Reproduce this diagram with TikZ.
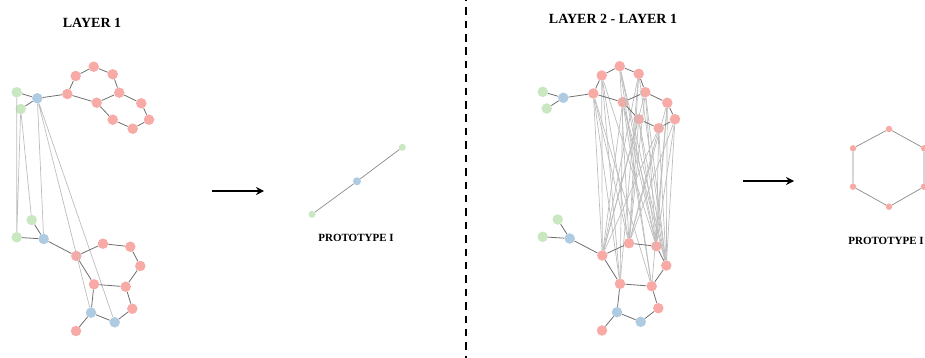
\documentclass[tikz,border=0pt]{standalone}
\usepackage{fontspec}
\setmainfont{Liberation Serif}
\usetikzlibrary{arrows.meta}
\definecolor{pinkn}{HTML}{F8ABA6}
\definecolor{greenn}{HTML}{C9E7C1}
\definecolor{bluen}{HTML}{AFCBE2}
\definecolor{darkedge}{HTML}{6E6E6E}
\definecolor{lightedge}{HTML}{BDBDBD}
\tikzset{
  vtx/.style={circle,inner sep=0pt,minimum size=10.5pt,draw=none},
  pk/.style={vtx,fill=pinkn},
  gr/.style={vtx,fill=greenn},
  bl/.style={vtx,fill=bluen},
  spk/.style={pk,minimum size=6.5pt},
  sgr/.style={gr,minimum size=7pt},
  sbl/.style={bl,minimum size=8pt},
  dedge/.style={draw=darkedge,line width=0.8pt},
  pedge/.style={draw=darkedge!80,line width=0.7pt},
  ledge/.style={draw=lightedge,line width=0.7pt},
  titletext/.style={font=\bfseries\fontsize{14}{16}\selectfont,inner sep=0pt},
  captext/.style={font=\bfseries\fontsize{11}{13}\selectfont,inner sep=0pt},
  bigarrow/.style={line width=2pt,-{Stealth[length=8pt,width=8pt]}},
  divider/.style={line width=2pt,dash pattern=on 7.5pt off 5.9pt,dash phase=6.1pt},
}
\newcommand\mygraphnodes[1]{%
  \node[gr] (#1g1) at (16.7,92.3) {};
  \node[gr] (#1g2) at (20.7,109) {};
  \node[bl] (#1b1) at (37.3,98.3) {};
  \node[pk] (#1p1) at (67.3,94) {};
  \node[pk] (#1p2) at (75.7,76) {};
  \node[pk] (#1p3) at (93.7,66.7) {};
  \node[pk] (#1p4) at (112.7,74.3) {};
  \node[pk] (#1p5) at (119.3,92.7) {};
  \node[pk] (#1p6) at (96.7,102.7) {};
  \node[pk] (#1p7) at (141.3,103.3) {};
  \node[pk] (#1p8) at (149,119.7) {};
  \node[pk] (#1p9) at (132.7,128.7) {};
  \node[pk] (#1p10) at (112.7,119.7) {};
  \node[gr] (#1g3) at (31.7,220) {};
  \node[gr] (#1g4) at (16.7,237.3) {};
  \node[bl] (#1b2) at (43.7,239) {};
  \node[pk] (#1q1) at (76.3,256) {};
  \node[pk] (#1q2) at (103,243.7) {};
  \node[pk] (#1q3) at (130.3,246.7) {};
  \node[pk] (#1q4) at (140.3,266) {};
  \node[pk] (#1q5) at (125.7,286.7) {};
  \node[pk] (#1q6) at (94,284.3) {};
  \node[pk] (#1q7) at (132.3,308.7) {};
  \node[bl] (#1b3) at (114.7,322.3) {};
  \node[bl] (#1b4) at (91,312.7) {};
  \node[pk] (#1q8) at (76,331) {};
}
\newcommand\mygraphedges[1]{%
  \draw[dedge] (#1g1)--(#1b1) (#1g2)--(#1b1) (#1b1)--(#1p1)
    (#1p1)--(#1p2) (#1p2)--(#1p3) (#1p3)--(#1p4) (#1p4)--(#1p5)
    (#1p5)--(#1p6) (#1p6)--(#1p1) (#1p5)--(#1p7) (#1p7)--(#1p8)
    (#1p8)--(#1p9) (#1p9)--(#1p10) (#1p10)--(#1p6);
  \draw[dedge] (#1g3)--(#1b2) (#1g4)--(#1b2) (#1b2)--(#1q1)
    (#1q1)--(#1q2) (#1q2)--(#1q3) (#1q3)--(#1q4) (#1q4)--(#1q5)
    (#1q5)--(#1q6) (#1q6)--(#1q1) (#1q5)--(#1q7) (#1q7)--(#1b3)
    (#1b3)--(#1b4) (#1b4)--(#1q6) (#1b4)--(#1q8);
}
\begin{document}
\begin{tikzpicture}[x=1pt,y=-1pt]
\useasboundingbox (0,0) rectangle (925,358);

% titles
\node[titletext] (t1) at (92,23) {LAYER 1};
\node[titletext] (t2) at (613,19) {LAYER 2 - LAYER 1};

% divider
\coordinate (dtop) at (466,0);
\coordinate (dbot) at (466,358);
\draw[divider] (dtop) -- (dbot);

% left graph
\mygraphnodes{L}
\draw[ledge] (Lg1)--(Lg4) (Lg2)--(Lg4) (Lg2)--(Lg3)
  (Lb1)--(Lb2) (Lb1)--(Lb4) (Lb1)--(Lb3);
\mygraphedges{L}

% right graph
\begin{scope}[shift={(526,-0.5)}]
\mygraphnodes{R}
\foreach \s/\t in {p1/q1,p1/q6,p1/q2,p1/q5,
                   p2/q1,p2/q2,p2/q3,p2/q6,
                   p3/q2,p3/q3,p3/q4,p3/q5,
                   p4/q1,p4/q2,p4/q4,p4/q6,
                   p5/q2,p5/q3,p5/q4,p5/q1,
                   p6/q1,p6/q3,p6/q4,p6/q6,p6/q5,
                   p7/q2,p7/q3,p7/q4,p7/q5,
                   p8/q3,p8/q4,p8/q2,
                   p9/q1,p9/q2,p9/q4,p9/q3,
                   p10/q2,p10/q4,p10/q1,p10/q3}
  {\draw[ledge] (R\s)--(R\t);}
\mygraphedges{R}
\end{scope}

% arrows
\coordinate (a1s) at (212,191);
\coordinate (a1e) at (264,191);
\draw[bigarrow] (a1s) -- (a1e);
\coordinate (a2s) at (743,181);
\coordinate (a2e) at (794,181);
\draw[bigarrow] (a2s) -- (a2e);

% prototype (left)
\node[sgr] (pa) at (312,214.3) {};
\node[sbl] (pb) at (357,181.3) {};
\node[sgr] (pc) at (402.3,147.3) {};
\draw[pedge] (pa)--(pb) (pb)--(pc);
\node[captext] (cap1) at (356,237.5) {PROTOTYPE I};

% prototype (right, hexagon)
\node[spk] (h1) at (889,129) {};
\node[spk] (h2) at (924,148.3) {};
\node[spk] (h3) at (924,186.7) {};
\node[spk] (h4) at (889,206.7) {};
\node[spk] (h5) at (853,186.7) {};
\node[spk] (h6) at (853,148.3) {};
\draw[pedge] (h1)--(h2) (h2)--(h3) (h3)--(h4) (h4)--(h5) (h5)--(h6) (h6)--(h1);
\node[captext] (cap2) at (886,241) {PROTOTYPE I};
\end{tikzpicture}
\end{document}
